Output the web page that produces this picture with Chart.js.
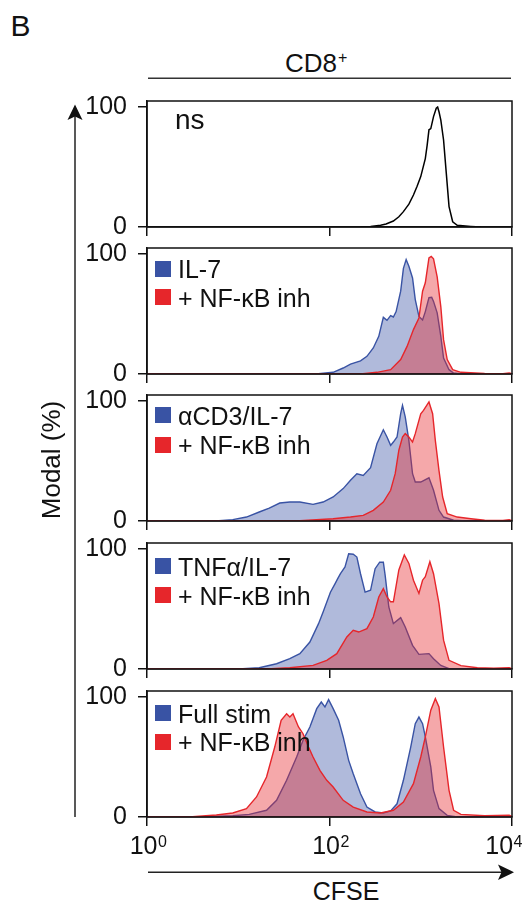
<!DOCTYPE html>
<html><head><meta charset="utf-8">
<script src="https://cdn.jsdelivr.net/npm/chart.js@4/dist/chart.umd.min.js"></script>
<style>
html,body{margin:0;padding:0;background:#fff;}
#page{position:relative;width:532px;height:905px;overflow:hidden;background:#fff;font-family:"Liberation Sans",Arial,Helvetica,sans-serif;color:#111;}
canvas.panel{position:absolute;left:0;}
.t{position:absolute;line-height:1;white-space:nowrap;color:#111;}
.sq{position:absolute;width:16px;height:16px;}
svg.deco{position:absolute;left:0;top:0;}
</style></head><body><div id="page"></div>
<script>
// ---------------- data ----------------
const panelLetter = 'B';
const titleText = 'CD8';
const titleSup = '+';
const yAxisTitle = 'Modal (%)';
const xAxisTitle = 'CFSE';
const xTickValues = [1, 100, 10000];
const xTickBase = ['10', '10', '10'];
const xTickExp = ['0', '2', '4'];
const yTickValues = [0, 100];
const nsLabel = 'ns';
const conditionLabels = ['IL-7', '\u03B1CD3/IL-7', 'TNF\u03B1/IL-7', 'Full stim'];
const inhibitorLabel = '+ NF-\u03BAB inh';

// points: [log10(CFSE), % of max]
const nsCurve = [[2.34,0],[2.45,0.4],[2.56,1.5],[2.62,2.5],[2.70,5],[2.76,8.5],[2.81,12.8],[2.87,19],[2.92,26.7],[2.96,34],[3.00,42],[3.05,57],[3.07,68],[3.09,81],[3.11,82],[3.14,92],[3.17,99],[3.185,100],[3.20,96],[3.22,89],[3.25,72.5],[3.28,44.7],[3.31,17],[3.35,4.4],[3.40,1.4],[3.55,0.5],[3.66,0]];

const il7 = [[0,0],[1.85,0],[2.04,1.4],[2.15,5],[2.23,8.3],[2.34,11],[2.41,14.7],[2.48,21.7],[2.54,31.4],[2.59,47.2],[2.63,44.7],[2.67,48.6],[2.70,47.5],[2.73,52],[2.78,69],[2.81,88],[2.84,95.3],[2.87,89.7],[2.91,80],[2.94,62],[2.98,48],[3.02,45],[3.05,52],[3.09,63.6],[3.12,64],[3.14,60.5],[3.18,51],[3.22,31.4],[3.25,13.3],[3.31,3.6],[3.36,0.8],[3.45,0],[4,0]];
const il7Inh = [[0,0],[2.34,0],[2.52,1.4],[2.67,3.6],[2.78,12],[2.85,23],[2.92,37],[2.98,46.7],[3.02,69],[3.05,76],[3.09,96.7],[3.115,98],[3.14,96],[3.18,81],[3.22,56],[3.25,28.6],[3.29,12],[3.35,3.6],[3.44,1.4],[3.70,0.5],[3.90,0.3],[3.97,0.8],[4,0.3]];

const cd3 = [[0,0],[0.75,0],[0.94,1.1],[1.09,3.3],[1.23,7.5],[1.34,10.8],[1.455,15],[1.565,15.8],[1.675,15.8],[1.82,13.9],[1.93,15.8],[2.04,20],[2.15,27],[2.23,33.9],[2.30,39.4],[2.37,38],[2.45,44.4],[2.52,64.4],[2.59,76],[2.63,70],[2.67,63],[2.70,65.8],[2.74,70],[2.78,89.4],[2.80,96.4],[2.83,86.7],[2.87,67],[2.91,39.4],[2.94,32.5],[3.00,32.5],[3.09,36],[3.14,25.6],[3.20,8.9],[3.25,3.3],[3.36,0.6],[3.5,0],[4,0]];
const cd3Inh = [[0,0],[1.5,0],[1.675,0.3],[2.04,1.9],[2.23,3.3],[2.37,4.7],[2.48,8.9],[2.59,15.8],[2.67,25.6],[2.72,39.4],[2.76,59],[2.80,70],[2.83,72.8],[2.87,70],[2.91,65.8],[2.94,72.8],[3.00,89.4],[3.03,92.2],[3.09,99.2],[3.13,89.4],[3.16,67],[3.20,42],[3.24,20],[3.29,6.1],[3.40,3.3],[3.55,1.9],[3.70,0.6],[3.90,0.5],[3.97,1.1],[4,0.3]];

const tnf = [[0,0],[1.0,0],[1.05,0.3],[1.23,1.1],[1.42,4.4],[1.565,8.6],[1.675,12.8],[1.785,22.5],[1.88,37.8],[1.93,47.5],[2.01,64],[2.06,71],[2.09,75.3],[2.12,79.4],[2.17,85],[2.21,96],[2.26,95.6],[2.30,93.3],[2.34,79.4],[2.39,64],[2.45,65.6],[2.50,83.6],[2.55,89],[2.59,89],[2.61,78],[2.65,51.7],[2.70,37.8],[2.78,42.8],[2.83,35],[2.91,19.7],[2.98,12.2],[3.09,12.8],[3.14,8.6],[3.22,3],[3.31,0.3],[3.5,0],[4,0]];
const tnfInh = [[0,0],[1.31,0],[1.565,1.1],[1.82,3],[1.97,7.2],[2.08,12.8],[2.19,26.7],[2.26,32.2],[2.32,30.8],[2.41,33.6],[2.48,43.3],[2.54,60],[2.59,67],[2.63,60],[2.67,56],[2.70,56],[2.76,82.5],[2.82,95],[2.87,88],[2.92,74],[2.98,63],[3.02,74],[3.05,77],[3.10,89.4],[3.14,79.4],[3.20,54.4],[3.25,24],[3.31,7.2],[3.44,2.8],[3.62,1.1],[3.80,0.6],[3.97,1.1],[4,0.3]];

const full = [[0,0],[0.57,0],[0.94,1.1],[1.12,2.2],[1.31,5.6],[1.42,13.9],[1.53,30.6],[1.64,50],[1.71,64],[1.785,75],[1.86,90.3],[1.91,95.8],[1.95,91.7],[1.99,97.8],[2.04,90.3],[2.10,80.6],[2.15,66.7],[2.21,47.2],[2.26,36],[2.34,19.4],[2.41,8.3],[2.50,4.2],[2.59,3.3],[2.67,5],[2.74,11],[2.81,30.6],[2.89,58.3],[2.94,77.8],[2.98,83.3],[3.02,77.8],[3.05,66.7],[3.11,41.7],[3.14,22.2],[3.20,7],[3.29,1.4],[3.40,0],[4,0]];
const fullInh = [[0,0],[0.2,0],[0.5,0.3],[0.57,0.6],[0.76,1.7],[0.94,3.3],[1.09,7],[1.20,16.7],[1.31,33.3],[1.40,58.3],[1.47,80.6],[1.53,86],[1.565,83.3],[1.60,86],[1.66,75],[1.71,69.4],[1.77,58.3],[1.82,50],[1.895,38.9],[1.97,30.6],[2.04,25],[2.15,13.9],[2.26,8.3],[2.41,4.2],[2.56,3.3],[2.70,5.6],[2.81,12.5],[2.92,27.8],[3.00,50],[3.05,66.7],[3.11,89],[3.16,98.6],[3.20,91.7],[3.25,58.3],[3.31,22.2],[3.36,5.6],[3.44,2.2],[3.70,1.1],[3.97,1.4],[4,0.5]];

// ---------------- layout & style ----------------
const FONT = '"Liberation Sans", Arial, Helvetica, sans-serif';
const INK = '#111';
const BLUE = '#3953a4', BLUE_FILL = 'rgba(57,83,164,0.40)';
const RED = '#e6262b', RED_FILL = 'rgba(230,38,43,0.40)';
const frameTops = [101, 248, 395, 543, 691];
const frameH = 126, padTop = 16;
const legendSquareTops = [[260.7,289.3],[407.3,436.7],[558,587],[705,733.5]];

const page = document.getElementById('page');
const toPts = arr => arr.map(([lg, pct]) => ({x: Math.pow(10, lg), y: pct}));

const framePlugin = {
  id: 'frame',
  afterDraw(chart) {
    const {ctx, chartArea: a} = chart;
    ctx.save(); ctx.strokeStyle = INK; ctx.lineWidth = 1.5;
    ctx.strokeRect(a.left, a.top, a.right - a.left, a.bottom - a.top);
    ctx.restore();
  }
};

// x tick labels with a true superscript, placed from the x scale's ticks
const powerLabelPlugin = {
  id: 'powerLabels',
  afterDraw(chart) {
    const {ctx} = chart;
    const xs = chart.scales.x;
    const baseY = xs.bottom - xs.height + 9 + 27.5;
    ctx.save();
    ctx.fillStyle = INK; ctx.textBaseline = 'alphabetic'; ctx.textAlign = 'left';
    xs.ticks.forEach(t => {
      const i = xTickValues.indexOf(t.value);
      if (i < 0) return;
      const px = xs.getPixelForValue(t.value);
      ctx.font = '25px ' + FONT;
      const wb = ctx.measureText(xTickBase[i]).width;
      ctx.font = '16px ' + FONT;
      const we = ctx.measureText(xTickExp[i]).width;
      let x0 = px - (wb + we) / 2 + 1;
      if (x0 + wb + we > chart.width - 10) x0 = chart.width - 10 - wb - we;
      ctx.font = '25px ' + FONT;
      ctx.fillText(xTickBase[i], x0, baseY);
      ctx.font = '16px ' + FONT;
      ctx.fillText(xTickExp[i], x0 + wb + 0.5, baseY - 6.5);
    });
    ctx.restore();
  }
};

function makePanel(idx, datasets, showX) {
  const xh = showX ? 50 : 12;
  const c = document.createElement('canvas');
  c.className = 'panel';
  c.width = 532; c.height = padTop + frameH + xh;
  c.style.top = (frameTops[idx] - padTop) + 'px';
  page.appendChild(c);
  new Chart(c, {
    type: 'line',
    data: {datasets},
    plugins: showX ? [framePlugin, powerLabelPlugin] : [framePlugin],
    options: {
      responsive: false, animation: false, devicePixelRatio: 1,
      layout: {padding: {top: padTop, right: 20, left: 0, bottom: 0}},
      plugins: {legend: {display: false}, tooltip: {enabled: false}},
      elements: {point: {radius: 0}, line: {tension: 0}},
      scales: {
        x: {
          type: 'logarithmic', min: 1, max: 10000, position: 'bottom', z: 1,
          afterBuildTicks: s => { s.ticks = xTickValues.map(v => ({value: v, major: true})); },
          afterFit: s => { s.height = xh; s.paddingLeft = 0; s.paddingRight = 0; },
          ticks: {display: false, autoSkip: false, maxRotation: 0,
                  callback: (v) => { const i = xTickValues.indexOf(v); return i < 0 ? '' : xTickBase[i] + '^' + xTickExp[i]; }},
          grid: {drawOnChartArea: false, drawTicks: true, tickLength: 9, color: INK, lineWidth: 1.5},
          border: {display: true, color: INK, width: 1.5}
        },
        y: {
          type: 'linear', min: 0, max: 105, z: 1,
          afterBuildTicks: s => { s.ticks = yTickValues.map(v => ({value: v})); },
          afterFit: s => { s.width = 147; s.paddingTop = 0; s.paddingBottom = 0; },
          ticks: {padding: 11, color: INK, font: {family: FONT, size: 25}, callback: v => String(v)},
          grid: {drawOnChartArea: false, drawTicks: true, tickLength: 9, color: INK, lineWidth: 1.5},
          border: {display: true, color: INK, width: 1.5}
        }
      }
    }
  });
}

function pair(label, blue, red) {
  return [
    {label: inhibitorLabel, data: toPts(red), borderColor: RED, backgroundColor: RED_FILL, fill: 'origin', borderWidth: 1.4, order: 0},
    {label: label, data: toPts(blue), borderColor: BLUE, backgroundColor: BLUE_FILL, fill: 'origin', borderWidth: 1.4, order: 1}
  ];
}

makePanel(0, [{label: nsLabel, data: toPts(nsCurve), borderColor: '#000', fill: false, borderWidth: 1.5}], false);
makePanel(1, pair(conditionLabels[0], il7, il7Inh), false);
makePanel(2, pair(conditionLabels[1], cd3, cd3Inh), false);
makePanel(3, pair(conditionLabels[2], tnf, tnfInh), false);
makePanel(4, pair(conditionLabels[3], full, fullInh), true);

// ---------------- text & decorations ----------------
function text(str, left, top, size, extra) {
  const d = document.createElement('div');
  d.className = 't';
  d.style.left = left + 'px'; d.style.top = top + 'px'; d.style.fontSize = size + 'px';
  if (extra) Object.assign(d.style, extra);
  d.textContent = str;
  page.appendChild(d);
  return d;
}
text(panelLetter, 10.5, 10.6, 30);
const ttl = text(titleText, 285, 72.5 - 0.8465 * 26, 26);
const sup = document.createElement('span');
sup.textContent = titleSup;
sup.style.cssText = 'font-size:16px;position:relative;top:-9px;margin-left:1px;';
ttl.appendChild(sup);
text(nsLabel, 175, 129.3 - 0.8465 * 28, 28);

const legendColors = [BLUE, RED];
conditionLabels.forEach((lab, i) => {
  const tops = legendSquareTops[i];
  [lab, inhibitorLabel].forEach((s, j) => {
    const sq = document.createElement('div');
    sq.className = 'sq';
    sq.style.left = '155px'; sq.style.top = tops[j] + 'px'; sq.style.background = legendColors[j];
    page.appendChild(sq);
    text(s, 178, tops[j] - 3.3, 25);
  });
});

text(yAxisTitle, 51, 460, 26, {transform: 'translate(-50%,-50%) rotate(-90deg)'});
text(xAxisTitle, 346, 900 - 0.8465 * 25, 25, {transform: 'translateX(-50%)'});

const NS = 'http://www.w3.org/2000/svg';
const svg = document.createElementNS(NS, 'svg');
svg.setAttribute('class', 'deco'); svg.setAttribute('width', 532); svg.setAttribute('height', 905);
svg.innerHTML =
  '<line x1="148" y1="78.3" x2="511" y2="78.3" stroke="#333" stroke-width="1.5"/>' +
  '<line x1="75" y1="817" x2="75" y2="115" stroke="#222" stroke-width="1.5"/>' +
  '<polygon points="75,104.5 67.5,120 75,116.5 82.5,120" fill="#111"/>' +
  '<line x1="148" y1="872.3" x2="503" y2="872.3" stroke="#222" stroke-width="1.5"/>' +
  '<polygon points="514,872.3 498,864.5 501.5,872.3 498,880" fill="#111"/>';
page.appendChild(svg);
</script></body></html>
